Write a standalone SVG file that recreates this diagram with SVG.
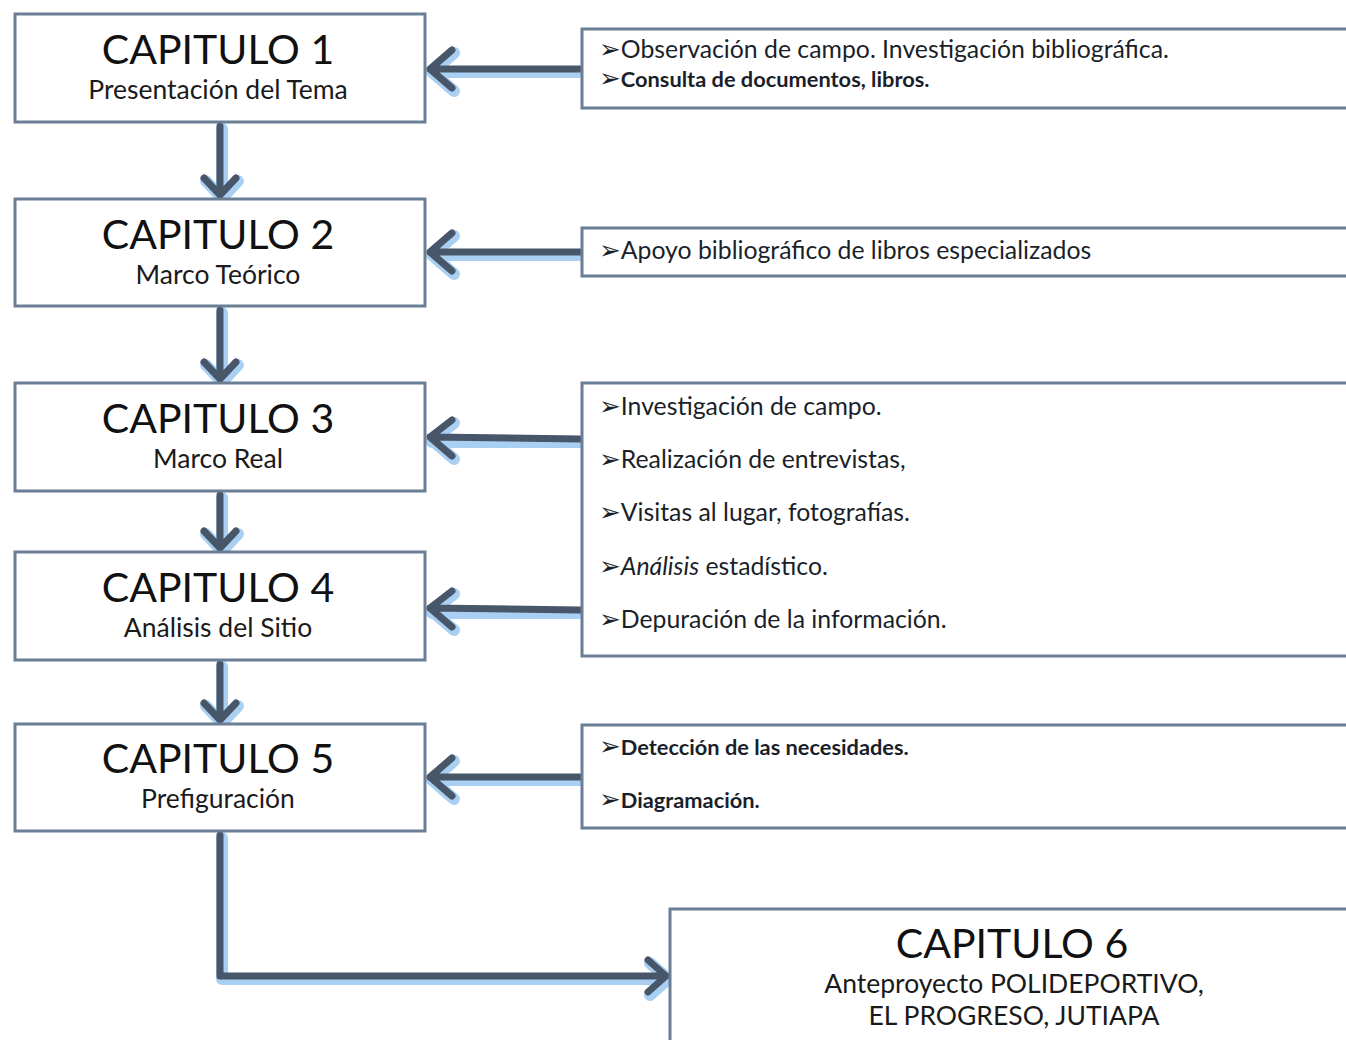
<svg xmlns="http://www.w3.org/2000/svg" width="1346" height="1040" viewBox="0 0 1346 1040">
<style>
.box{fill:#fff;stroke:#6a7f96;stroke-width:3}
.glow{fill:none;stroke:#a9d0f2;stroke-width:12;stroke-linecap:round;stroke-linejoin:round}
.arr{fill:none;stroke:#475668;stroke-width:7;stroke-linecap:round;stroke-linejoin:round}
.t1{font-family:Lato,"Liberation Sans",sans-serif;font-size:41px;fill:#111;text-anchor:middle}
.t2{font-family:Lato,"Liberation Sans",sans-serif;font-size:26.5px;fill:#1a1a1a;text-anchor:middle}
.r{font-family:Lato,"Liberation Sans",sans-serif;font-size:24.8px;fill:#1a1f2a}
.rs{font-family:Lato,"Liberation Sans",sans-serif;font-size:21.8px;fill:#1a1f2a;font-weight:bold}
.b{font-family:"DejaVu Sans",sans-serif;font-size:26px;font-weight:bold}
</style>
<rect width="1346" height="1040" fill="#fff"/>
<g id="connectors">
  <g transform="translate(2,3)">
    <path class="glow" d="M580 69H430M452 50L430 69L452 88"/>
    <path class="glow" d="M580 252H430M452 233L430 252L452 271"/>
    <path class="glow" d="M580 439H430M452 420L430 437L452 456"/>
    <path class="glow" d="M580 610H430M452 591L430 608L452 627"/>
    <path class="glow" d="M580 777H430M452 758L430 777L452 796"/>
    <path class="glow" d="M220 126V195M204 178L220 195L236 178"/>
    <path class="glow" d="M220 310V379M204 362L220 379L236 362"/>
    <path class="glow" d="M220 495V548M204 531L220 548L236 531"/>
    <path class="glow" d="M220 664V720M204 703L220 720L236 703"/>
    <path class="glow" d="M220 835V976H666M648 960L666 976L648 992"/>
  </g>
  <path class="arr" d="M580 69H430M452 50L430 69L452 88"/>
  <path class="arr" d="M580 252H430M452 233L430 252L452 271"/>
  <path class="arr" d="M580 439L430 437M452 420L430 437L452 456"/>
  <path class="arr" d="M580 610L430 608M452 591L430 608L452 627"/>
  <path class="arr" d="M580 777H430M452 758L430 777L452 796"/>
  <path class="arr" d="M220 126V195M204 178L220 195L236 178"/>
  <path class="arr" d="M220 310V379M204 362L220 379L236 362"/>
  <path class="arr" d="M220 495V548M204 531L220 548L236 531"/>
  <path class="arr" d="M220 664V720M204 703L220 720L236 703"/>
  <path class="arr" d="M220 835V976H666M648 960L666 976L648 992"/>
</g>
<g id="cap1"><rect class="box" x="15" y="14" width="410" height="108"/>
<text class="t1" x="218" y="64">CAPITULO 1</text><text class="t2" x="218" y="99">Presentación del Tema</text></g>
<g id="cap2"><rect class="box" x="15" y="199" width="410" height="107"/>
<text class="t1" x="218" y="249">CAPITULO 2</text><text class="t2" x="218" y="284">Marco Teórico</text></g>
<g id="cap3"><rect class="box" x="15" y="383" width="410" height="108"/>
<text class="t1" x="218" y="433">CAPITULO 3</text><text class="t2" x="218" y="468">Marco Real</text></g>
<g id="cap4"><rect class="box" x="15" y="552" width="410" height="108"/>
<text class="t1" x="218" y="602">CAPITULO 4</text><text class="t2" x="218" y="637">Análisis del Sitio</text></g>
<g id="cap5"><rect class="box" x="15" y="724" width="410" height="107"/>
<text class="t1" x="218" y="773">CAPITULO 5</text><text class="t2" x="218" y="808">Prefiguración</text></g>
<g id="cap6"><rect class="box" x="670" y="909" width="690" height="150"/>
<text class="t1" x="1012" y="958">CAPITULO 6</text>
<text class="t2" x="1014" y="993">Anteproyecto POLIDEPORTIVO,</text>
<text class="t2" x="1014" y="1025">EL PROGRESO, JUTIAPA</text></g>
<g id="info1"><rect class="box" x="582" y="29" width="780" height="79"/>
<text class="r" x="599" y="58"><tspan class="b">➢</tspan>Observación de campo. Investigación bibliográfica.</text>
<text class="rs" x="599" y="87"><tspan class="b">➢</tspan>Consulta de documentos,  libros.</text></g>
<g id="info2"><rect class="box" x="582" y="228" width="780" height="48"/>
<text class="r" x="599" y="259"><tspan class="b">➢</tspan>Apoyo  bibliográfico de libros especializados</text></g>
<g id="info3"><rect class="box" x="582" y="383" width="780" height="273"/>
<text class="r" x="599" y="415"><tspan class="b">➢</tspan>Investigación de campo.</text>
<text class="r" x="599" y="468"><tspan class="b">➢</tspan>Realización de entrevistas,</text>
<text class="r" x="599" y="521"><tspan class="b">➢</tspan>Visitas al lugar, fotografías.</text>
<text class="r" x="599" y="575"><tspan class="b">➢</tspan><tspan font-style="italic">Análisis</tspan> estadístico.</text>
<text class="r" x="599" y="628"><tspan class="b">➢</tspan>Depuración de la información.</text></g>
<g id="info5"><rect class="box" x="582" y="725" width="780" height="103"/>
<text class="rs" x="599" y="755"><tspan class="b">➢</tspan>Detección de las necesidades.</text>
<text class="rs" x="599" y="808"><tspan class="b">➢</tspan>Diagramación.</text></g>
</svg>
